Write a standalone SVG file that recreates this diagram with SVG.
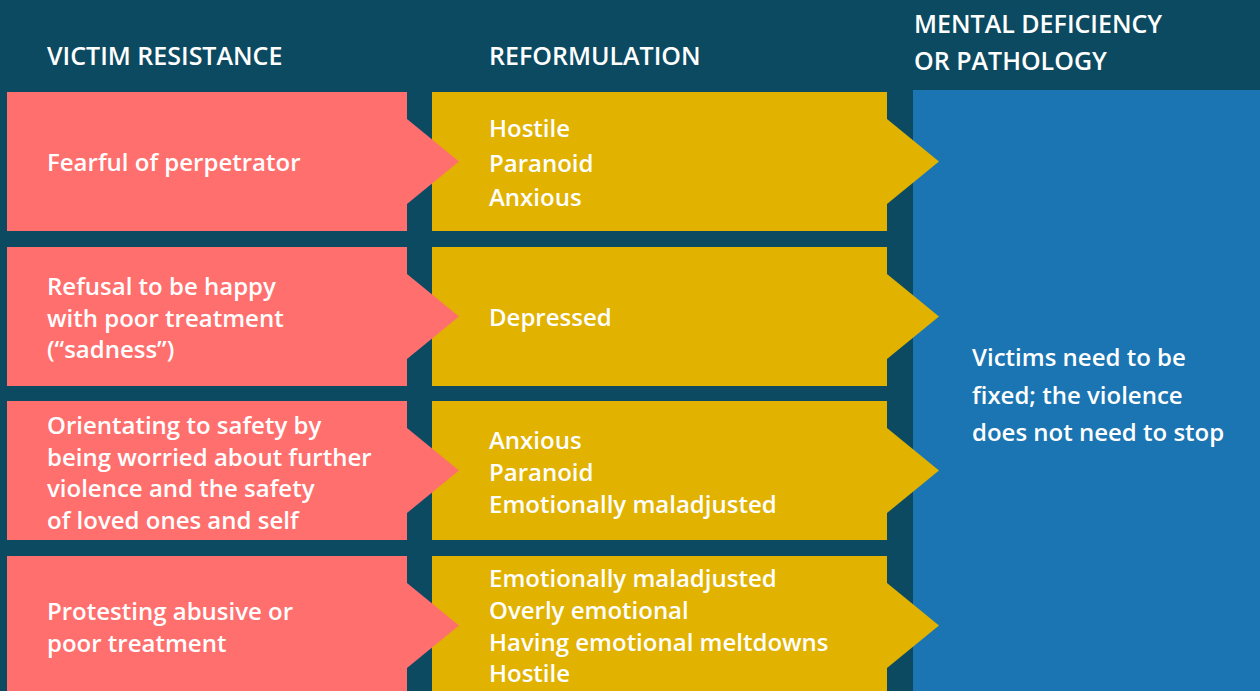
<svg xmlns="http://www.w3.org/2000/svg" width="1260" height="691" viewBox="0 0 1260 691">
  <style>
    .bg { fill: #0c4a61; }
    .red { fill: #ff6f6e; }
    .yellow { fill: #e1b200; }
    .blue { fill: #1a75b2; }
    text { font-family: "Open Sans", "Liberation Sans", sans-serif; font-weight: 600; fill: #ffffff; font-size: 24px; }
    .head { font-size: 25px; }
  </style>

  <rect class="bg" x="0" y="0" width="1260" height="691"/>

  <!-- column headers -->
  <g id="headers">
    <text class="head" x="47" y="65">VICTIM RESISTANCE</text>
    <text class="head" x="489" y="65">REFORMULATION</text>
    <text class="head" x="914" y="33">MENTAL DEFICIENCY</text>
    <text class="head" x="914" y="70">OR PATHOLOGY</text>
  </g>

  <!-- outcome column -->
  <g id="pathology">
    <rect class="blue" x="913" y="90" width="347" height="601"/>
    <text x="972" y="366">Victims need to be</text>
    <text x="972" y="404">fixed; the violence</text>
    <text x="972" y="441">does not need to stop</text>
  </g>

  <!-- row 1 -->
  <g id="resist-1">
    <rect class="red" x="7" y="92" width="400" height="139"/>
    <text x="47" y="171">Fearful of perpetrator</text>
  </g>
  <g id="reform-1">
    <rect class="yellow" x="432" y="92" width="455" height="139"/>
    <text x="489" y="137">Hostile</text>
    <text x="489" y="172">Paranoid</text>
    <text x="489" y="206">Anxious</text>
  </g>

  <!-- row 2 -->
  <g id="resist-2">
    <rect class="red" x="7" y="247" width="400" height="139"/>
    <text x="47" y="295">Refusal to be happy</text>
    <text x="47" y="327">with poor treatment</text>
    <text x="47" y="358">(“sadness”)</text>
  </g>
  <g id="reform-2">
    <rect class="yellow" x="432" y="247" width="455" height="139"/>
    <text x="489" y="326">Depressed</text>
  </g>

  <!-- row 3 -->
  <g id="resist-3">
    <rect class="red" x="7" y="401" width="400" height="139"/>
    <text x="47" y="434">Orientating to safety by</text>
    <text x="47" y="466">being worried about further</text>
    <text x="47" y="497">violence and the safety</text>
    <text x="47" y="529">of loved ones and self</text>
  </g>
  <g id="reform-3">
    <rect class="yellow" x="432" y="401" width="455" height="139"/>
    <text x="489" y="449">Anxious</text>
    <text x="489" y="481">Paranoid</text>
    <text x="489" y="513">Emotionally maladjusted</text>
  </g>

  <!-- row 4 -->
  <g id="resist-4">
    <rect class="red" x="7" y="556" width="400" height="139"/>
    <text x="47" y="620">Protesting abusive or</text>
    <text x="47" y="652">poor treatment</text>
  </g>
  <g id="reform-4">
    <rect class="yellow" x="432" y="556" width="455" height="139"/>
    <text x="489" y="587">Emotionally maladjusted</text>
    <text x="489" y="619">Overly emotional</text>
    <text x="489" y="651">Having emotional meltdowns</text>
    <text x="489" y="682">Hostile</text>
  </g>

  <!-- chevron connectors: each box points into the next column -->
  <g id="connectors">
    <polygon class="red" points="407,119 459,161.5 407,204"/>
    <polygon class="red" points="407,274 459,316.5 407,359"/>
    <polygon class="red" points="407,428 459,470.5 407,513"/>
    <polygon class="red" points="407,583 459,625.5 407,668"/>
    <polygon class="yellow" points="887,119 939,161.5 887,204"/>
    <polygon class="yellow" points="887,274 939,316.5 887,359"/>
    <polygon class="yellow" points="887,428 939,470.5 887,513"/>
    <polygon class="yellow" points="887,583 939,625.5 887,668"/>
  </g>
</svg>
